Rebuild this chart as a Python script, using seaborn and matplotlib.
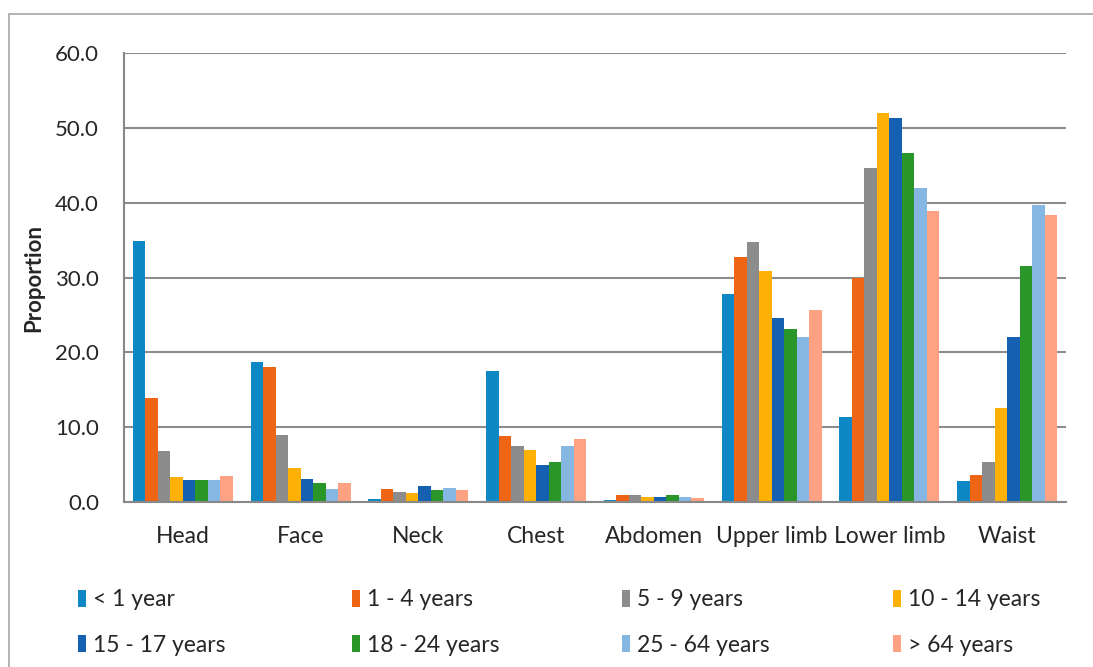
#!/usr/bin/env python3
"""
Injury site proportion by age group - grouped bar chart
"""

import pandas as pd
import numpy as np
import matplotlib
matplotlib.use("Agg")
import matplotlib.pyplot as plt
from matplotlib.patches import Rectangle
import seaborn as sns

# Data
sites = ['Head', 'Face', 'Neck', 'Chest', 'Abdomen', 'Upper limb', 'Lower limb', 'Waist']
age_groups = ['< 1 year', '1 - 4 years', '5 - 9 years', '10 - 14 years',
              '15 - 17 years', '18 - 24 years', '25 - 64 years', '> 64 years']

under_1 = [34.9, 18.7, 0.4, 17.5, 0.3, 27.8, 11.4, 2.8]
age_1_4 = [13.9, 18.1, 1.8, 8.8, 0.9, 32.7, 30.0, 3.6]
age_5_9 = [6.8, 9.0, 1.3, 7.5, 0.9, 34.7, 44.7, 5.4]
age_10_14 = [3.3, 4.5, 1.2, 7.0, 0.6, 30.9, 52.0, 12.5]
age_15_17 = [3.0, 3.1, 2.2, 4.9, 0.7, 24.6, 51.3, 22.0]
age_18_24 = [3.0, 2.6, 1.6, 5.4, 0.9, 23.1, 46.6, 31.5]
age_25_64 = [2.9, 1.7, 1.9, 7.5, 0.7, 22.0, 41.9, 39.7]
over_64 = [3.5, 2.6, 1.6, 8.4, 0.5, 25.7, 38.9, 38.4]

colors = ['#0E88C4', '#EE6515', '#8C8C8C', '#FDB005',
          '#1560B0', '#2A962A', '#86B6E2', '#FFA283']

series = [under_1, age_1_4, age_5_9, age_10_14, age_15_17, age_18_24, age_25_64, over_64]
rows = []
for group, values in zip(age_groups, series):
    for site, v in zip(sites, values):
        rows.append({'site': site, 'age': group, 'proportion': v})
df = pd.DataFrame(rows)

sns.set_style('white')
plt.rcParams['font.family'] = ['Lato', 'DejaVu Sans']

fig = plt.figure(figsize=(10.93, 6.67), dpi=100)
ax = fig.add_axes([0.1134, 0.2474, 0.8619, 0.6731])

sns.barplot(data=df, x='site', y='proportion', hue='age', order=sites,
            hue_order=age_groups, palette=colors, saturation=1,
            width=0.85, gap=0, edgecolor='none', ax=ax, legend=True)

ax.set_ylim(0, 60)
ax.set_yticks(np.arange(0, 61, 10))
ax.set_yticklabels([f'{t:.1f}' for t in np.arange(0, 61, 10)], fontsize=16)
ax.set_xlim(-0.5, len(sites) - 0.5)
ax.set_xticks(range(len(sites)))
ax.set_xticklabels(sites, fontsize=16.5)
ax.set_xticks(np.arange(-0.5, len(sites), 1), minor=True)
ax.tick_params(axis='x', which='major', length=0, pad=17)
ax.tick_params(axis='x', which='minor', length=6, width=1.2, color='#888888')
ax.tick_params(axis='y', length=6, width=1.2, color='#888888', pad=12)
ax.set_xlabel('')
ax.set_ylabel('Proportion', fontsize=16, fontweight='bold', labelpad=8)

ax.yaxis.grid(True, color='#8C8C8C', linewidth=1.5)
ax.set_axisbelow(True)
for side in ['top', 'right']:
    ax.spines[side].set_visible(False)
for side in ['left', 'bottom']:
    ax.spines[side].set_color('#888888')
    ax.spines[side].set_linewidth(1.5)

# Legend below the plot: 4 equal-width columns, filled row by row
handles, labels = ax.get_legend_handles_labels()
ax.get_legend().remove()
col_x = [78, 352, 622, 893]
for i, x in enumerate(col_x):
    leg = fig.legend([handles[i], handles[i + 4]], [labels[i], labels[i + 4]],
                     loc='center left', bbox_to_anchor=(x / 1093, 1 - 622.5 / 667),
                     frameon=False, fontsize=16.5, handlelength=0.35,
                     handleheight=0.75, handletextpad=0.3, labelspacing=1.05,
                     borderpad=0, borderaxespad=0)

# Thin border around the chart
fig.add_artist(Rectangle((9 / 1093, -0.01), 1.0, 1 - 13.5 / 667 + 0.01,
                         transform=fig.transFigure, fill=False,
                         edgecolor='#A6A6A6', linewidth=1.2))

fig.savefig('out.png', dpi=100)
